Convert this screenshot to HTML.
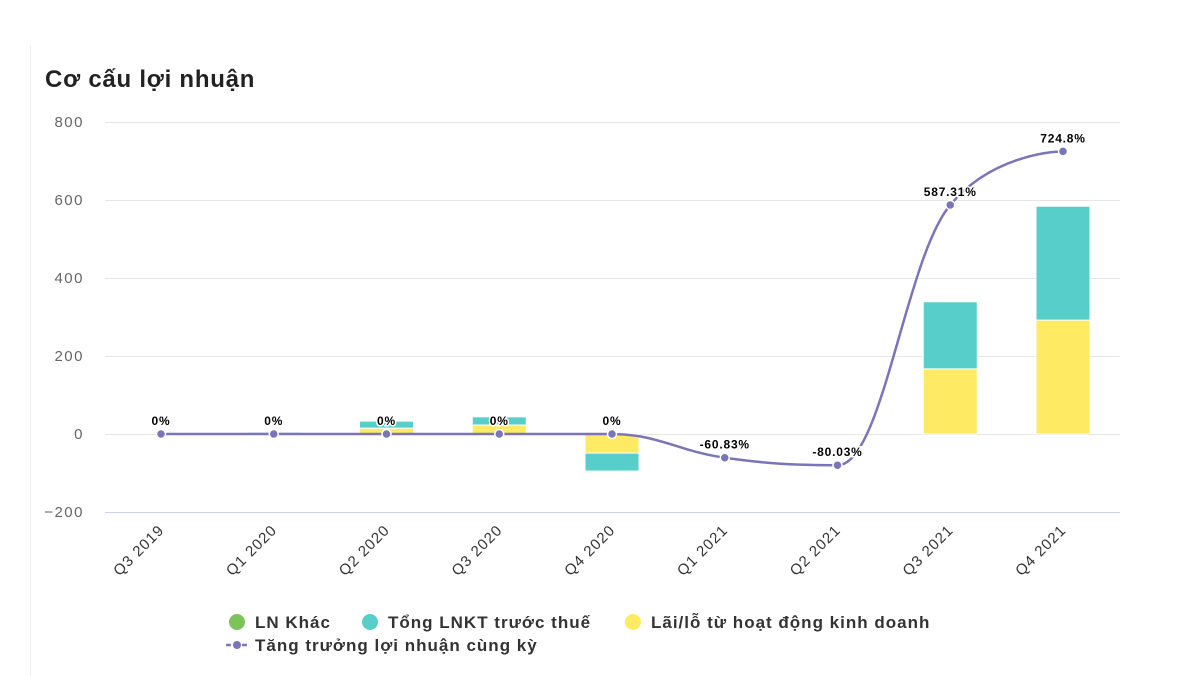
<!DOCTYPE html>
<html><head><meta charset="utf-8"><style>
html,body{margin:0;padding:0;background:#fff;width:1180px;height:676px;overflow:hidden}
svg{font-family:"Liberation Sans","DejaVu Sans",sans-serif}
</style></head><body>
<svg id="chart" width="1180" height="676">
<line x1="30.5" y1="45" x2="30.5" y2="676" stroke="#eee"/>
<text x="45" y="87" font-size="24" font-weight="bold" fill="#222" letter-spacing="0.75">Cơ cấu lợi nhuận</text>
<g id="grid"></g><g id="bars"></g><g id="line"></g><g id="labels"></g>
<g font-size="17" font-weight="bold" fill="#333" letter-spacing="1">
 <g><circle cx="237" cy="622" r="8" fill="#7cc35a"/><text x="255" y="628">LN Khác</text></g>
 <g><circle cx="370" cy="622" r="8" fill="#57cec9"/><text x="388" y="628">Tổng LNKT trước thuế</text></g>
 <g><circle cx="633" cy="622" r="8" fill="#ffea64"/><text x="651" y="628">Lãi/lỗ từ hoạt động kinh doanh</text></g>
 <g><line x1="226" y1="645" x2="248" y2="645" stroke="#7a74b9" stroke-width="2.5" stroke-dasharray="5,3"/><circle cx="237" cy="645" r="4" fill="#7a74b9"/><text x="255" y="651">Tăng trưởng lợi nhuận cùng kỳ</text></g>
</g>
</svg>
<script>
const categories=["Q3 2019","Q1 2020","Q2 2020","Q3 2020","Q4 2020","Q1 2021","Q2 2021","Q3 2021","Q4 2021"];
const laiLo=[0,3,15,23,-49,0,0,167,292];
const tongLNKT=[0,3,18,21,-46,0,0,172,292];
const lnKhac=[0,1,0,0,0,0,0,0,0];
const growth=[0,0,0,0,0,-60.83,-80.03,587.31,724.8];
const growthLabels=["0%","0%","0%","0%","0%","-60.83%","-80.03%","587.31%","724.8%"];
const yTicks=[800,600,400,200,0,-200];
const NS="http://www.w3.org/2000/svg";
const y=v=>434-v*0.39;
const x=i=>161+i*112.75;
function mk(tag,attrs,parent){const e=document.createElementNS(NS,tag);for(const k in attrs)e.setAttribute(k,attrs[k]);parent.appendChild(e);return e;}
const grid=document.getElementById('grid'),bars=document.getElementById('bars'),line=document.getElementById('line'),labels=document.getElementById('labels');
yTicks.forEach(t=>{
 const l=mk('line',{x1:105,x2:1120,y1:y(t)+0.5,y2:y(t)+0.5,stroke:t===-200?'#ccd6eb':'#e6e6e6'},grid);
 
 
 const tx=mk('text',{x:84,y:y(t)+5,'text-anchor':'end','font-size':15,fill:'#666','letter-spacing':1.5},grid);
 tx.textContent=(t<0?'−'+(-t):t);
 
 
});
categories.forEach((c,i)=>{
 const t=mk('text',{'text-anchor':'end','font-size':15,fill:'#333','letter-spacing':1,transform:`translate(${x(i)+4},${531}) rotate(-45)`},grid);
 t.textContent=c;
 
 
 let pos=0,neg=0;
 [[laiLo,'#ffea64'],[tongLNKT,'#57cec9'],[lnKhac,'#7cc35a']].forEach(([arr,col])=>{
  const v=arr[i]; if(!v) return;
  let y0,y1;
  if(v>0){y0=y(pos);pos+=v;y1=y(pos);}else{y0=y(neg);neg+=v;y1=y(neg);}
  const r=mk('rect',{x:x(i)-27,width:54,y:Math.min(y0,y1),height:Math.abs(y1-y0),fill:col,stroke:'#fff','stroke-width':1},bars);
  
  
 });
});
// Highcharts-style spline
const px=growth.map((g,i)=>x(i)),py=growth.map(g=>y(g));
const n=px.length,L=[],R=[];
for(let i=0;i<n;i++){
 if(i===0||i===n-1){L.push([px[i],py[i]]);R.push([px[i],py[i]]);continue;}
 const sm=1.5,den=2.5;
 const lx=(sm*px[i]+px[i-1])/den;let ly=(sm*py[i]+py[i-1])/den;
 const rx=(sm*px[i]+px[i+1])/den;let ry=(sm*py[i]+py[i+1])/den;
 const corr=((ry-ly)*(rx-px[i]))/(rx-lx)+py[i]-ry;
 ly+=corr;ry+=corr;
 if(ly>py[i-1]&&ly>py[i]){ly=Math.max(py[i-1],py[i]);ry=2*py[i]-ly;}
 else if(ly<py[i-1]&&ly<py[i]){ly=Math.min(py[i-1],py[i]);ry=2*py[i]-ly;}
 if(ry>py[i+1]&&ry>py[i]){ry=Math.max(py[i+1],py[i]);ly=2*py[i]-ry;}
 else if(ry<py[i+1]&&ry<py[i]){ry=Math.min(py[i+1],py[i]);ly=2*py[i]-ry;}
 L.push([lx,ly]);R.push([rx,ry]);
}
let p=`M${px[0]},${py[0]}`;
for(let i=1;i<n;i++)p+=` C${R[i-1][0]},${R[i-1][1]} ${L[i][0]},${L[i][1]} ${px[i]},${py[i]}`;
const path=mk('path',{d:p,fill:'none',stroke:'#7a74b9','stroke-width':2.5},line);


growth.forEach((g,i)=>{
 const c=mk('circle',{cx:px[i],cy:py[i],r:4.5,fill:'#7a74b9',stroke:'#fff','stroke-width':1.5},line);
 
 
 const t=mk('text',{x:px[i],y:py[i]-9,'text-anchor':'middle','font-size':12,'font-weight':'bold',fill:'#000',stroke:'#fff','stroke-width':3,'paint-order':'stroke','letter-spacing':0.8},labels);
 t.textContent=growthLabels[i];
 
 
});
</script>
</body></html>
